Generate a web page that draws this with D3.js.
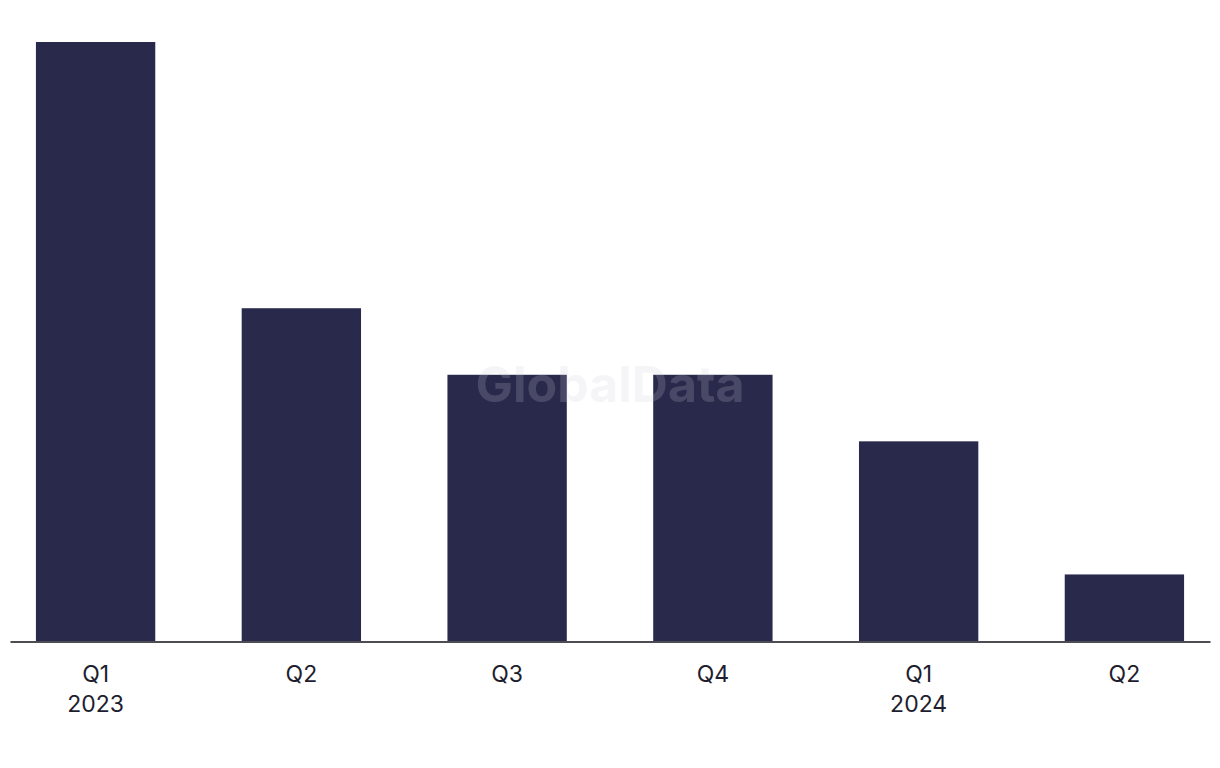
<!DOCTYPE html>
<html>
<head>
<meta charset="utf-8">
<script src="https://cdn.jsdelivr.net/npm/d3@7"></script>
<style>
  html, body { margin: 0; padding: 0; background: #ffffff; }
  svg { display: block; }
</style>
</head>
<body>
<svg id="chart" width="1220" height="768"></svg>
<script>
const quarters = ["Q1", "Q2", "Q3", "Q4", "Q1", "Q2"];
const years = ["2023", "", "", "", "2024", ""];
const values = [9, 5, 4, 4, 3, 1];

const svg = d3.select("#chart");
const keys = quarters.map((q, i) => i);

const x = d3.scaleBand()
  .domain(keys)
  .range([10, 1210])
  .paddingInner(0.42)
  .paddingOuter(0.126);

const y = d3.scaleLinear()
  .domain([0, 9])
  .range([641, 42]);

svg.append("g")
  .selectAll("rect")
  .data(values)
  .join("rect")
  .attr("x", (d, i) => x(i))
  .attr("y", d => y(d))
  .attr("width", x.bandwidth())
  .attr("height", d => y(0) - y(d))
  .attr("fill", "#29294c");

// watermark
svg.append("text")
  .attr("x", 610)
  .attr("y", 402)
  .attr("text-anchor", "middle")
  .attr("font-family", "Inter, 'Noto Sans', sans-serif")
  .attr("font-weight", 700)
  .attr("font-size", 50)
  .attr("fill", "rgb(205,205,215)")
  .attr("fill-opacity", 0.2)
  .text("GlobalData");

const axis = svg.append("g")
  .attr("transform", "translate(0,641.5)")
  .call(d3.axisBottom(x).tickSize(0).tickFormat(() => ""));
axis.select(".domain").attr("stroke", "#111118").attr("stroke-width", 1.7);

const ticks = axis.selectAll(".tick text");
ticks.each(function(d, i) {
  const t = d3.select(this);
  t.text(null)
    .attr("font-family", "Inter, 'Noto Sans', sans-serif")
    .attr("font-size", 23)
    .attr("fill", "#1e1e2e")
    .attr("y", 0)
    .attr("dy", null);
  t.append("tspan").attr("x", 0).attr("y", 40).text(quarters[i]);
  if (years[i]) t.append("tspan").attr("x", 0).attr("y", 70).text(years[i]);
});
</script>
</body>
</html>
